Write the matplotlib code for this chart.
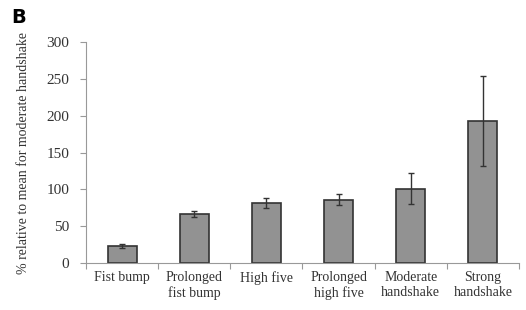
import matplotlib.pyplot as plt

categories = ['Fist bump', 'Prolonged\nfist bump', 'High five', 'Prolonged\nhigh five',
              'Moderate\nhandshake', 'Strong\nhandshake']
means = [23, 66, 81, 86, 101, 193]
errors = [3, 4, 7, 7, 21, 61]

plt.rcParams['font.family'] = 'Liberation Serif'

fig = plt.figure(figsize=(5.26, 3.10), dpi=100)
ax = fig.add_axes([86 / 526, 1 - 263 / 310, 433 / 526, 221 / 310])

x = list(range(len(categories)))
ax.bar(x, means, width=0.4, color='#929292', edgecolor='#333333', linewidth=1.2,
       yerr=errors, error_kw=dict(ecolor='#333333', elinewidth=1, capsize=2.5, capthick=1))

ax.set_xlim(-0.5, len(categories) - 0.5)
ax.set_ylim(0, 300)
ax.set_yticks(range(0, 301, 50))
ax.set_xticks([i - 0.5 for i in range(len(categories) + 1)], minor=False)
ax.set_xticklabels([])
ax.set_xticks(x, minor=True)
ax.set_xticklabels(categories, minor=True, fontsize=10, color='#333333')
ax.tick_params(axis='x', which='minor', length=0, pad=6)
ax.tick_params(axis='x', which='major', length=4, color='#999999', direction='out')
ax.tick_params(axis='y', length=4, color='#999999', labelsize=11, labelcolor='#333333', pad=8)

for s in ['top', 'right']:
    ax.spines[s].set_visible(False)
for s in ['left', 'bottom']:
    ax.spines[s].set_color('#999999')

ax.set_ylabel('% relative to mean for moderate handshake', fontsize=10, color='#333333')
ax.yaxis.set_label_coords(-0.13, 0.5)
fig.text(0.022, 0.925, 'B', fontsize=14, fontweight='bold', family='DejaVu Sans')

fig.savefig('out.png', dpi=100)
